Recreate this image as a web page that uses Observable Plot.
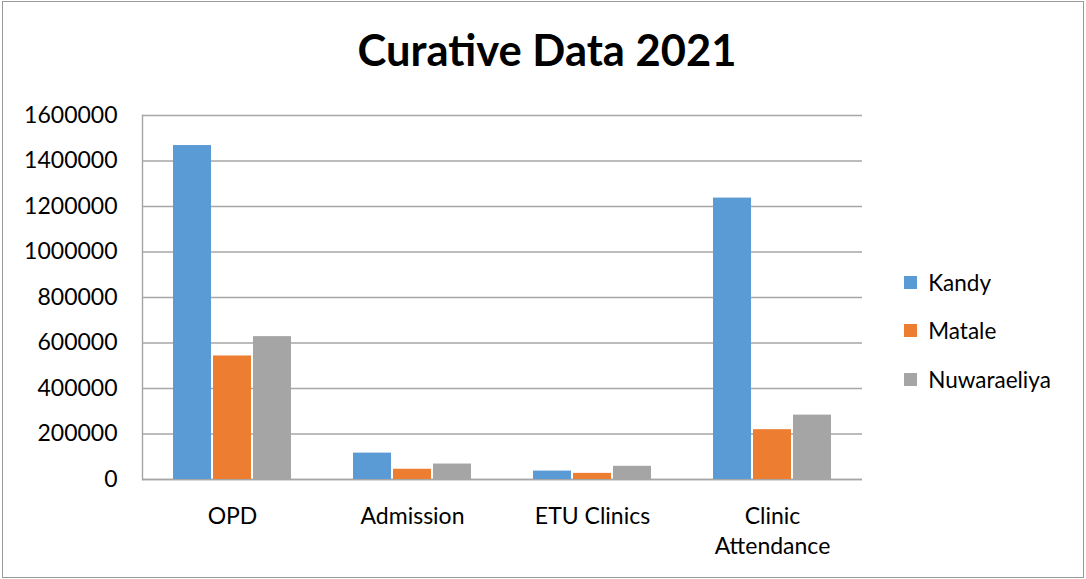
<!DOCTYPE html>
<html>
<head>
<meta charset="utf-8">
<script src="https://cdn.jsdelivr.net/npm/d3@7"></script>
<script src="https://cdn.jsdelivr.net/npm/@observablehq/plot@0.6"></script>
<style>
  html, body { margin: 0; padding: 0; background: #fff; }
  #chart {
    position: absolute; left: 2px; top: 1px; width: 1080px; height: 575px;
    border: 1.5px solid #999; background: #fff; overflow: hidden;
    font-family: Lato, "Open Sans", sans-serif; color: #000;
  }
  #title {
    position: absolute; left: 0; top: 21px; width: 1088px; text-align: center;
    font-size: 43.5px; font-weight: bold; color: #000;
  }
  #plot { position: absolute; left: -3.5px; top: -2.5px; }
  #legend { position: absolute; left: 901px; top: 256px; }
  div.lg-swatches .lg-swatch { height: 48.5px; font-size: 22.5px; color: #000; margin: 0; padding: 0; }
  div.lg-swatches { font-family: Lato, sans-serif; }
</style>
</head>
<body>
<div id="chart">
  <div id="title">Curative Data 2021</div>
  <div id="plot"></div>
  <div id="legend"></div>
</div>
<script>
const categories = ["OPD", "Admission", "ETU Clinics", "Clinic Attendance"];
const categoryLabels = ["OPD", "Admission", "ETU Clinics", "Clinic\nAttendance"];
const series = ["Kandy", "Matale", "Nuwaraeliya"];
const kandy = [1468000, 116000, 37000, 1237000];
const matale = [543000, 45000, 27000, 219000];
const nuwaraeliya = [628000, 68000, 58000, 283000];
const colors = ["#5b9bd5", "#ed7d31", "#a5a5a5"];
const yTicks = [0, 200000, 400000, 600000, 800000, 1000000, 1200000, 1400000, 1600000];

const seriesValues = [kandy, matale, nuwaraeliya];
const data = categories.flatMap((c, i) =>
  series.map((s, j) => ({category: c, series: s, value: seriesValues[j][i]}))
);

const plot = Plot.plot({
  width: 880,
  height: 570,
  marginLeft: 141,
  marginRight: 18,
  marginTop: 115,
  marginBottom: 91,
  style: {fontFamily: "Lato, 'Open Sans', sans-serif", fontSize: "23px", color: "#000", background: "transparent"},
  fx: {domain: categories, padding: 0, label: null},
  x: {domain: series, paddingInner: 0.05, paddingOuter: 0.775, axis: null},
  y: {domain: [0, 1600000], label: null},
  color: {domain: series, range: colors},
  marks: [
    Plot.gridY(yTicks, {stroke: "#a6a6a6", strokeOpacity: 1, strokeWidth: 1.4}),
    Plot.ruleY([0], {stroke: "#a6a6a6", strokeWidth: 1.6}),
    Plot.barY(data, {fx: "category", x: "series", y: "value", fill: "series"}),
    Plot.frame({anchor: "left", facet: "super", stroke: "#a6a6a6", strokeWidth: 1.4}),
    Plot.axisY({ticks: yTicks, tickFormat: d3.format("d"), tickSize: 0, tickPadding: 25, fontSize: 23, label: null}),
    Plot.axisFx({anchor: "bottom", tickSize: 0, tickPadding: 23, fontSize: 23, lineHeight: 1.3, label: null,
      tickFormat: d => categoryLabels[categories.indexOf(d)]})
  ]
});
document.getElementById("plot").append(plot);

const legend = plot.legend("color", {columns: 1, swatchSize: 13, className: "lg"});
document.getElementById("legend").append(legend);
</script>
</body>
</html>
